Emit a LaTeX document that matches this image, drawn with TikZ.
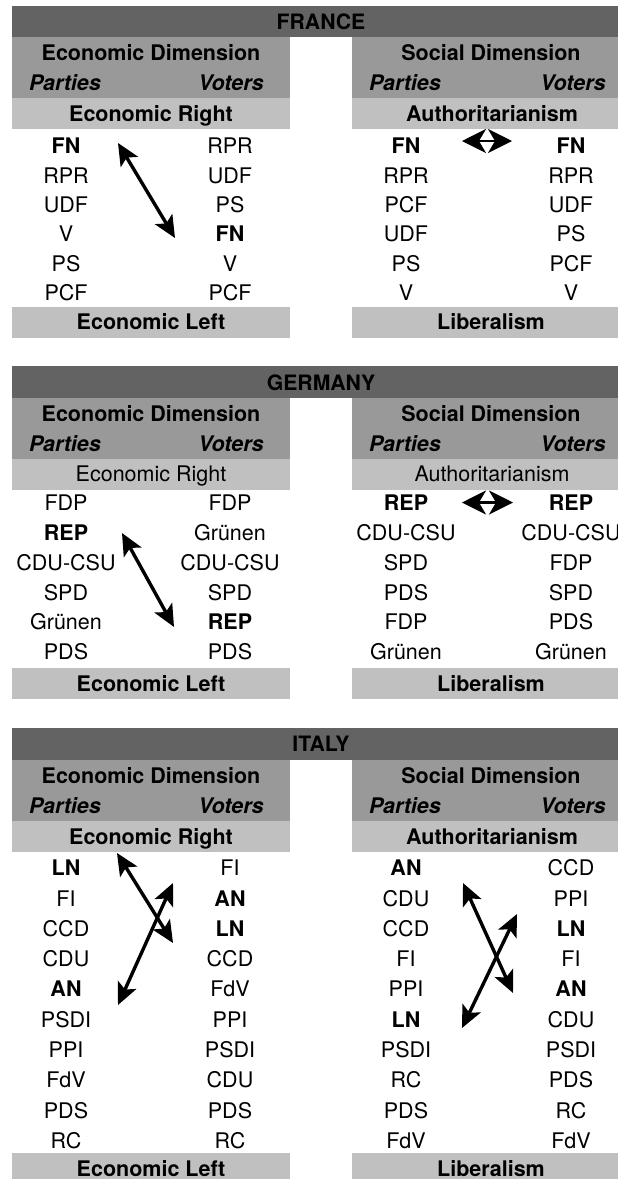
\documentclass[tikz,border=0pt]{standalone}
\usepackage{fontspec}
\setmainfont{TeX Gyre Heros}
\usetikzlibrary{arrows.meta}
\definecolor{bandDark}{RGB}{99,99,99}
\definecolor{bandMid}{RGB}{153,153,153}
\definecolor{bandLight}{RGB}{192,192,192}
\tikzset{
  txtbase/.style={inner sep=0pt, outer sep=0pt, text depth=0pt},
  ttl/.style={txtbase, text height=15.2pt, font=\fontsize{21.2}{25}\selectfont\bfseries},
  hd/.style={txtbase, text height=15.4pt, font=\fontsize{21.5}{25}\selectfont\bfseries},
  hdit/.style={txtbase, text height=15.4pt, font=\fontsize{21.5}{25}\selectfont\bfseries\itshape},
  hdreg/.style={txtbase, text height=15.4pt, font=\fontsize{21.5}{25}\selectfont},
  item/.style={txtbase, text height=15.4pt, font=\fontsize{21.5}{25}\selectfont},
  arr/.style={line width=3.4pt, {Stealth[length=22pt,width=20pt,inset=5pt]}-{Stealth[length=22pt,width=20pt,inset=5pt]}},
  dbl/.style={line width=2.5pt, {Stealth[length=24pt,width=24pt,inset=7pt]}-{Stealth[length=24pt,width=24pt,inset=7pt]}}
}
\begin{document}
\begin{tikzpicture}[x=1pt,y=-1pt]
\useasboundingbox (0,0) rectangle (618,1179);
\clip (0,0) rectangle (618,1179);
% ================= FRANCE =================
\fill[bandDark] (12,5.5) rectangle (618,37);
\fill[bandMid] (12,37) rectangle (290,98);
\fill[bandMid] (352,37) rectangle (618,98);
\fill[bandLight] (12,98) rectangle (290,129);
\fill[bandLight] (352,98) rectangle (618,129);
\fill[bandLight] (12,307) rectangle (290,337.5);
\fill[bandLight] (352,307) rectangle (618,337.5);
\node[ttl] (fr-title) at (321,21.5) {FRANCE};
\node[hd] (fr-ed) at (151,53) {Economic Dimension};
\node[hd] (fr-sd) at (491,53) {Social Dimension};
\node[hdit] (fr-ep) at (65,83) {Parties};
\node[hdit] (fr-ev) at (231,83) {Voters};
\node[hdit] (fr-sp) at (405,83) {Parties};
\node[hdit] (fr-sv) at (573,83) {Voters};
\node[hd] (fr-et) at (151,114) {Economic Right};
\node[hd] (fr-st) at (492,114) {Authoritarianism};
\node[hd] (fr-eb) at (151,322) {Economic Left};
\node[hd] (fr-sb) at (491,322) {Liberalism};
\foreach \t [count=\i] in {{\textbf{FN}},RPR,UDF,V,PS,PCF}
  \node[item] (fr-a\i) at (66,{146+29.4*(\i-1)}) {\t};
\foreach \t [count=\i] in {RPR,UDF,PS,{\textbf{FN}},V,PCF}
  \node[item] (fr-b\i) at (230,{146+29.4*(\i-1)}) {\t};
\foreach \t [count=\i] in {{\textbf{FN}},RPR,PCF,UDF,PS,V}
  \node[item] (fr-c\i) at (406,{146+29.4*(\i-1)}) {\t};
\foreach \t [count=\i] in {{\textbf{FN}},RPR,UDF,PS,PCF,V}
  \node[item] (fr-d\i) at (571,{146+29.4*(\i-1)}) {\t};
\coordinate (fr-e1) at (118,143);
\coordinate (fr-e2) at (175,238);
\draw[arr] (fr-e1) -- (fr-e2);
\coordinate (fr-s1) at (462,141);
\coordinate (fr-s2) at (512,141);
\draw[dbl] (fr-s1) -- (fr-s2);
% ================= GERMANY =================
\fill[bandDark] (12,366) rectangle (618,398);
\fill[bandMid] (12,398) rectangle (290,459);
\fill[bandMid] (352,398) rectangle (618,459);
\fill[bandLight] (12,459) rectangle (290,489.5);
\fill[bandLight] (352,459) rectangle (618,489.5);
\fill[bandLight] (12,668) rectangle (290,699);
\fill[bandLight] (352,668) rectangle (618,699);
\node[ttl] (de-title) at (321,382.5) {GERMANY};
\node[hd] (de-ed) at (151,413.5) {Economic Dimension};
\node[hd] (de-sd) at (491,413.5) {Social Dimension};
\node[hdit] (de-ep) at (65,443.5) {Parties};
\node[hdit] (de-ev) at (231,443.5) {Voters};
\node[hdit] (de-sp) at (405,443.5) {Parties};
\node[hdit] (de-sv) at (573,443.5) {Voters};
\node[hdreg] (de-et) at (151,474) {Economic Right};
\node[hdreg] (de-st) at (492,474) {Authoritarianism};
\node[hd] (de-eb) at (151,683.5) {Economic Left};
\node[hd] (de-sb) at (491,683.5) {Liberalism};
\foreach \t [count=\i] in {FDP,{\textbf{REP}},CDU-CSU,SPD,Grünen,PDS}
  \node[item] (de-a\i) at (66,{503+29.8*(\i-1)}) {\t};
\foreach \t [count=\i] in {FDP,Grünen,CDU-CSU,SPD,{\textbf{REP}},PDS}
  \node[item] (de-b\i) at (230,{503+29.8*(\i-1)}) {\t};
\foreach \t [count=\i] in {{\textbf{REP}},CDU-CSU,SPD,PDS,FDP,Grünen}
  \node[item] (de-c\i) at (406,{503+29.8*(\i-1)}) {\t};
\foreach \t [count=\i] in {{\textbf{REP}},CDU-CSU,FDP,SPD,PDS,Grünen}
  \node[item] (de-d\i) at (571,{503+29.8*(\i-1)}) {\t};
\coordinate (de-e1) at (122,533);
\coordinate (de-e2) at (174,627);
\draw[arr] (de-e1) -- (de-e2);
\coordinate (de-s1) at (462,502.5);
\coordinate (de-s2) at (513,502.5);
\draw[dbl] (de-s1) -- (de-s2);
% ================= ITALY =================
\fill[bandDark] (12,728) rectangle (618,760);
\fill[bandMid] (12,760) rectangle (290,821);
\fill[bandMid] (352,760) rectangle (618,821);
\fill[bandLight] (12,821) rectangle (290,852);
\fill[bandLight] (352,821) rectangle (618,852);
\fill[bandLight] (12,1153) rectangle (290,1185);
\fill[bandLight] (352,1153) rectangle (618,1185);
\node[ttl] (it-title) at (321,744) {ITALY};
\node[hd] (it-ed) at (151,775.5) {Economic Dimension};
\node[hd] (it-sd) at (491,775.5) {Social Dimension};
\node[hdit] (it-ep) at (65,806) {Parties};
\node[hdit] (it-ev) at (231,806) {Voters};
\node[hdit] (it-sp) at (405,806) {Parties};
\node[hdit] (it-sv) at (573,806) {Voters};
\node[hd] (it-et) at (151,837) {Economic Right};
\node[hd] (it-st) at (492,837) {Authoritarianism};
\node[hd] (it-eb) at (151,1168.5) {Economic Left};
\node[hd] (it-sb) at (491,1168.5) {Liberalism};
\foreach \t [count=\i] in {{\textbf{LN}},FI,CCD,CDU,{\textbf{AN}},PSDI,PPI,FdV,PDS,RC}
  \node[item] (it-a\i) at (66,{868+30.3*(\i-1)}) {\t};
\foreach \t [count=\i] in {FI,{\textbf{AN}},{\textbf{LN}},CCD,FdV,PPI,PSDI,CDU,PDS,RC}
  \node[item] (it-b\i) at (230,{868+30.3*(\i-1)}) {\t};
\foreach \t [count=\i] in {{\textbf{AN}},CDU,CCD,FI,PPI,{\textbf{LN}},PSDI,RC,PDS,FdV}
  \node[item] (it-c\i) at (406,{868+30.3*(\i-1)}) {\t};
\foreach \t [count=\i] in {CCD,PPI,{\textbf{LN}},FI,{\textbf{AN}},CDU,PSDI,PDS,RC,FdV}
  \node[item] (it-d\i) at (571,{868+30.3*(\i-1)}) {\t};
\coordinate (it-e1) at (117,853);
\coordinate (it-e2) at (173,943);
\draw[arr] (it-e1) -- (it-e2);
\coordinate (it-e3) at (118,1005);
\coordinate (it-e4) at (173,883);
\draw[arr] (it-e3) -- (it-e4);
\coordinate (it-s1) at (463,883);
\coordinate (it-s2) at (513,993);
\draw[arr] (it-s1) -- (it-s2);
\coordinate (it-s3) at (462,1028);
\coordinate (it-s4) at (517,914);
\draw[arr] (it-s3) -- (it-s4);
\end{tikzpicture}
\end{document}
